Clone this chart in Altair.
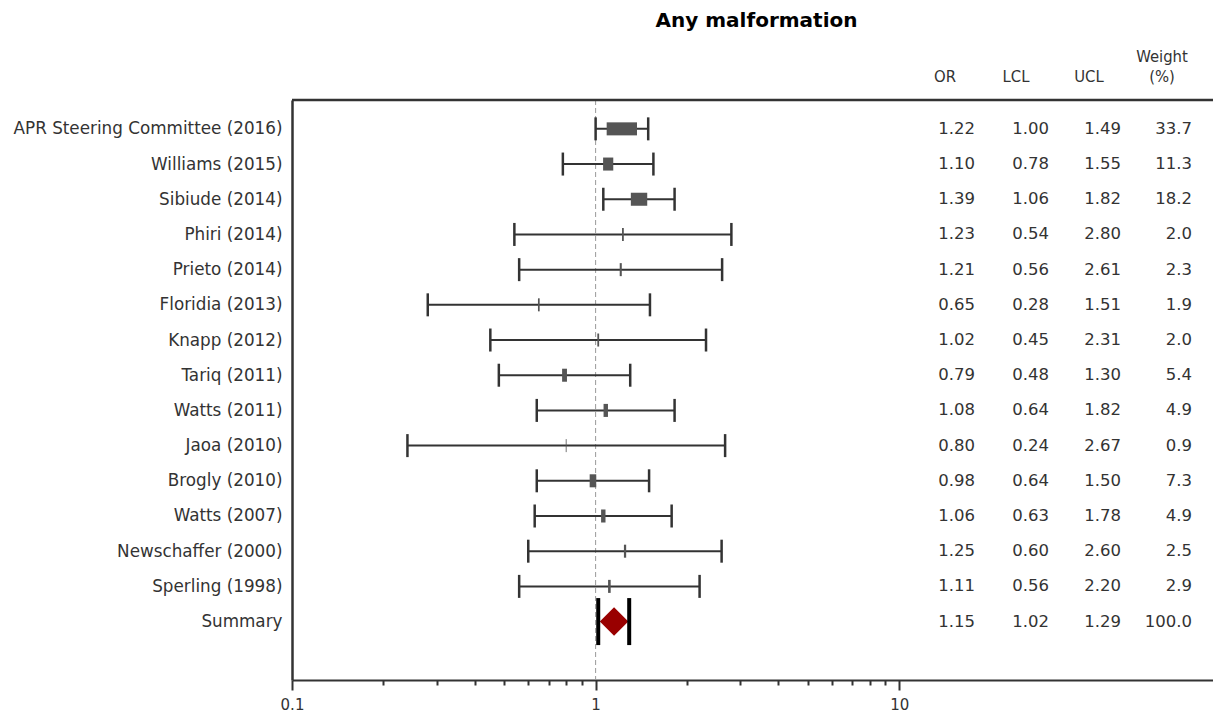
import json
import altair as alt
import pandas as pd

studies = ["APR Steering Committee (2016)", "Williams (2015)", "Sibiude (2014)",
           "Phiri (2014)", "Prieto (2014)", "Floridia (2013)", "Knapp (2012)",
           "Tariq (2011)", "Watts (2011)", "Jaoa (2010)", "Brogly (2010)",
           "Watts (2007)", "Newschaffer (2000)", "Sperling (1998)", "Summary"]
or_vals = [1.22, 1.10, 1.39, 1.23, 1.21, 0.65, 1.02, 0.79, 1.08, 0.80, 0.98, 1.06, 1.25, 1.11, 1.15]
lcl_vals = [1.00, 0.78, 1.06, 0.54, 0.56, 0.28, 0.45, 0.48, 0.64, 0.24, 0.64, 0.63, 0.60, 0.56, 1.02]
ucl_vals = [1.49, 1.55, 1.82, 2.80, 2.61, 1.51, 2.31, 1.30, 1.82, 2.67, 1.50, 1.78, 2.60, 2.20, 1.29]
weights = [33.7, 11.3, 18.2, 2.0, 2.3, 1.9, 2.0, 5.4, 4.9, 0.9, 7.3, 4.9, 2.5, 2.9, 100.0]
x_ticks = [0.1, 0.2, 0.3, 0.4, 0.5, 0.6, 0.7, 0.8, 0.9, 1, 2, 3, 4, 5, 6, 7, 8, 9, 10]
headers = ["OR", "LCL", "UCL", "Weight", "(%)"]

df = pd.DataFrame({
    "study": studies,
    "row": list(range(len(studies))),
    "or": or_vals,
    "lcl": lcl_vals,
    "ucl": ucl_vals,
    "weight": weights,
    "is_summary": [s == "Summary" for s in studies],
})

W = 921
H = 580
FONT = "DejaVu Sans"
TXT = "#333333"
LINE = "#333333"

major = "datum.value == 0.1 || datum.value == 1 || datum.value == 10"

xscale = alt.Scale(type="log", domain=[0.1, 108], nice=False)
yscale = alt.Scale(domain=[-0.82, 15.66], reverse=True, nice=False, zero=False)

xaxis = alt.Axis(
    values=x_ticks, title=None, grid=False,
    labelExpr=f"({major}) ? toString(datum.value) : ''",
    tickSize={"condition": {"test": major, "value": 10}, "value": 5},
    tickWidth=2, tickColor=LINE, domainColor=LINE, domainWidth=2,
    labelFont=FONT, labelFontSize=15, labelColor=TXT, labelPadding=7,
    labelFlush=False, labelOverlap=False, labelBound=False,
)
yaxis = alt.Axis(
    values=list(range(len(studies))), title=None, grid=False, ticks=False,
    labelExpr=f"{json.dumps(studies)}[datum.value]",
    domainColor=LINE, domainWidth=2.5,
    labelFont=FONT, labelFontSize=16.8, labelColor=TXT, labelPadding=10,
    labelOverlap=False, labelBound=False, labelLimit=0,
)

base = alt.Chart(df)
studies_only = base.transform_filter("!datum.is_summary")
summary_only = base.transform_filter("datum.is_summary")
one = alt.Chart(pd.DataFrame({"k": [0]}))

refline = one.mark_rule(color="#999999", strokeDash=[5, 3], strokeWidth=1).encode(
    x=alt.datum(1, scale=xscale, axis=xaxis)
)

ci = studies_only.mark_rule(color=LINE, strokeWidth=2).encode(
    x=alt.X("lcl:Q", scale=xscale, axis=xaxis),
    x2="ucl:Q",
    y=alt.Y("row:Q", scale=yscale, axis=yaxis),
)

cap_l = studies_only.mark_tick(orient="vertical", size=23, thickness=2.5, color=LINE, opacity=1).encode(
    x=alt.X("lcl:Q", scale=xscale), y=alt.Y("row:Q", scale=yscale))
cap_r = studies_only.mark_tick(orient="vertical", size=23, thickness=2.5, color=LINE, opacity=1).encode(
    x=alt.X("ucl:Q", scale=xscale), y=alt.Y("row:Q", scale=yscale))

boxes = studies_only.transform_calculate(
    top="datum.row - 0.185", bot="datum.row + 0.185", wpx="datum.weight * 0.9"
).mark_rule(color="#555555", strokeCap="butt").encode(
    x=alt.X("or:Q", scale=xscale),
    y=alt.Y("top:Q", scale=yscale),
    y2="bot:Q",
    strokeWidth=alt.StrokeWidth("wpx:Q", scale=None, legend=None),
)

diamond = summary_only.mark_point(shape="diamond", filled=True, size=812, color="#990000", opacity=1).encode(
    x=alt.X("or:Q", scale=xscale), y=alt.Y("row:Q", scale=yscale))

scap_l = summary_only.mark_tick(orient="vertical", size=47, thickness=4, color="black", opacity=1).encode(
    x=alt.X("lcl:Q", scale=xscale), y=alt.Y("row:Q", scale=yscale))
scap_r = summary_only.mark_tick(orient="vertical", size=47, thickness=4, color="black", opacity=1).encode(
    x=alt.X("ucl:Q", scale=xscale), y=alt.Y("row:Q", scale=yscale))

col_fields = [("or", ".2f", 683), ("lcl", ".2f", 757), ("ucl", ".2f", 829), ("weight", ".1f", 900)]
cols = []
for field, fmt, px in col_fields:
    cols.append(base.mark_text(align="right", baseline="middle", font=FONT, fontSize=16.5, color=TXT).encode(
        x=alt.value(px), y=alt.Y("row:Q", scale=yscale),
        text=alt.Text(f"{field}:Q", format=fmt)))

header_pos = [(653, -23), (724, -23), (797, -23), (870, -43), (870, -23)]
heads = []
for h, (px, py) in zip(headers, header_pos):
    heads.append(alt.Chart(pd.DataFrame({"label": [h]})).mark_text(
        align="center", baseline="middle", font="DejaVu Sans Condensed, DejaVu Sans",
        fontSize=16.5, color=TXT).encode(x=alt.value(px), y=alt.value(py), text="label:N"))

top_border = one.mark_rule(color=LINE, strokeWidth=2.5).encode(
    x=alt.value(0), x2=alt.value(W), y=alt.value(0))

chart = alt.layer(
    refline, ci, cap_l, cap_r, boxes, diamond, scap_l, scap_r, top_border, *cols, *heads
).properties(
    width=W, height=H,
    title=alt.TitleParams("Any malformation", font=FONT, fontSize=20, fontWeight="bold",
                          color="black", anchor="middle", frame="group", offset=18, dx=4),
    autosize=alt.AutoSizeParams(type="none"),
    padding={"left": 284, "top": 92, "right": 0, "bottom": 38},
).configure_view(stroke=None)

chart.save("out.html", embed_options={"renderer": "svg", "actions": False})
